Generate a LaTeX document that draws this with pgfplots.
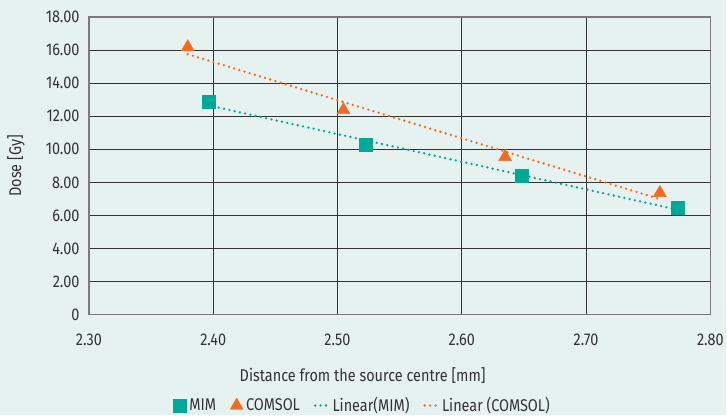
\documentclass[border=0pt]{standalone}
\usepackage{pgfplots}
\pgfplotsset{compat=1.18}
\usepackage{fontspec}
\setmainfont{Fira Sans}[FakeStretch=0.85]
\definecolor{bg}{HTML}{E5F2EF}
\definecolor{mim}{HTML}{00A995}
\definecolor{com}{HTML}{F26B21}
\definecolor{gridc}{HTML}{333333}
\definecolor{axc}{HTML}{7A7A7A}
\definecolor{txt}{HTML}{333333}
\begin{document}
\begin{tikzpicture}[x=1pt,y=1pt]
\fill[bg] (-89,-100) rectangle (638,315);
\begin{axis}[
  at={(0,0)}, anchor=south west,
  scale only axis, width=622pt, height=298pt,
  xmin=2.3, xmax=2.8, ymin=0, ymax=18,
  xtick={2.3,2.4,2.5,2.6,2.7,2.8},
  xticklabels={2.30,2.40,2.50,2.60,2.70,2.80},
  ytick={0,2,4,6,8,10,12,14,16,18},
  yticklabels={0,2.00,4.00,6.00,8.00,10.00,12.00,14.00,16.00,18.00},
  major tick length=0pt,
  grid=major,
  major grid style={color=gridc, line width=0.9pt},
  axis line style={color=axc, line width=1.2pt},
  tick label style={font=\fontsize{17}{20}\selectfont, text=txt},
  yticklabel style={xshift=-6pt},
  xticklabel style={yshift=-16pt},
  legend columns=4,
  legend style={draw=none, fill=none, at={(0.4405,-0.305)}, anchor=center,
    font=\fontsize{17}{20}\selectfont, text=txt,
    /tikz/every odd column/.append style={column sep=1pt},
    /tikz/every even column/.append style={column sep=12pt}},
  legend cell align=left,
]
\addplot[mim, line width=2.6pt, dash pattern=on 0pt off 5.4pt, line cap=round, forget plot]
  coordinates {(2.396,12.66) (2.774,6.34)};
\addplot[com, line width=2.6pt, dash pattern=on 0pt off 5.4pt, line cap=round, forget plot]
  coordinates {(2.3795,15.75) (2.7594,6.99)};
\addplot[only marks, mark=square*, mark size=6.5pt, mark options={draw=mim, fill=mim}]
  coordinates {(2.396,12.86) (2.5225,10.27) (2.6486,8.39) (2.7739,6.46)};
\addlegendentry{MIM}
\addplot[only marks, mark=triangle*, mark size=7.5pt, mark options={draw=com, fill=com}]
  coordinates {(2.3795,16.18) (2.5048,12.38) (2.6349,9.54) (2.7594,7.37)};
\addlegendentry{COMSOL}
\addlegendimage{legend image code/.code={\draw[mim, line width=2.6pt, dash pattern=on 0pt off 5.4pt, line cap=round] (1pt,0pt) -- (14pt,0pt);}}
\addlegendentry{Linear(MIM)}
\addlegendimage{legend image code/.code={\draw[com, line width=2.6pt, dash pattern=on 0pt off 5.4pt, line cap=round] (1pt,0pt) -- (14pt,0pt);}}
\addlegendentry{Linear (COMSOL)}
\end{axis}
\node[text=txt, font=\fontsize{17}{20}\selectfont] at (274,-61) {Distance from the source centre [mm]};
\node[text=txt, font=\fontsize{17}{20}\selectfont, rotate=90] at (-73,149) {Dose [Gy]};
\end{tikzpicture}
\end{document}
